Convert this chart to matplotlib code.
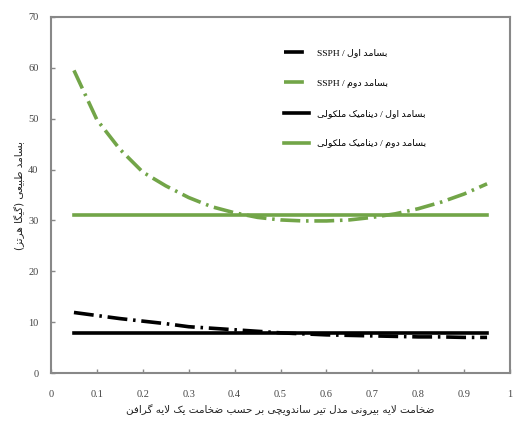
import matplotlib
matplotlib.use("Agg")
import matplotlib.pyplot as plt
import re

# thickness ratio (outer layer / one graphene layer)
x = [0.05, 0.10, 0.15, 0.20, 0.25, 0.30, 0.35, 0.40, 0.45, 0.50,
     0.55, 0.60, 0.65, 0.70, 0.75, 0.80, 0.85, 0.90, 0.95]
ssph_mode1 = [11.9, 11.3, 10.7, 10.2, 9.7, 9.1, 8.8, 8.5, 8.2, 7.9,
              7.7, 7.5, 7.4, 7.3, 7.2, 7.1, 7.1, 7.0, 7.0]
ssph_mode2 = [59.5, 49.8, 44.0, 39.5, 36.8, 34.5, 32.7, 31.5, 30.6, 30.1,
              29.9, 29.9, 30.1, 30.6, 31.3, 32.3, 33.6, 35.2, 37.2]
md_mode1 = [7.9] * len(x)
md_mode2 = [31.1] * len(x)

labels = ["بسامد اول / SSPH", "بسامد دوم / SSPH",
          "بسامد اول / دینامیک ملکولی", "بسامد دوم / دینامیک ملکولی"]
xlabel = "ضخامت لایه بیرونی مدل تیر ساندویچی بر حسب ضخامت یک لایه گرافن"
ylabel = "بسامد طبیعی (گیگا هرتز)"

# simple persian shaping: letter -> (isolated, final, initial, medial)
FORMS = {
    'ا': (0xFE8D, 0xFE8E, None, None), 'ب': (0xFE8F, 0xFE90, 0xFE91, 0xFE92),
    'ت': (0xFE95, 0xFE96, 0xFE97, 0xFE98), 'ح': (0xFEA1, 0xFEA2, 0xFEA3, 0xFEA4),
    'خ': (0xFEA5, 0xFEA6, 0xFEA7, 0xFEA8), 'د': (0xFEA9, 0xFEAA, None, None),
    'ر': (0xFEAD, 0xFEAE, None, None), 'ز': (0xFEAF, 0xFEB0, None, None),
    'س': (0xFEB1, 0xFEB2, 0xFEB3, 0xFEB4), 'ض': (0xFEBD, 0xFEBE, 0xFEBF, 0xFEC0),
    'ط': (0xFEC1, 0xFEC2, 0xFEC3, 0xFEC4), 'ع': (0xFEC9, 0xFECA, 0xFECB, 0xFECC),
    'ف': (0xFED1, 0xFED2, 0xFED3, 0xFED4), 'ل': (0xFEDD, 0xFEDE, 0xFEDF, 0xFEE0),
    'م': (0xFEE1, 0xFEE2, 0xFEE3, 0xFEE4), 'ن': (0xFEE5, 0xFEE6, 0xFEE7, 0xFEE8),
    'ه': (0xFEE9, 0xFEEA, 0xFEEB, 0xFEEC), 'و': (0xFEED, 0xFEEE, None, None),
    'چ': (0xFB7A, 0xFB7B, 0xFB7C, 0xFB7D), 'ک': (0xFB8E, 0xFB8F, 0xFB90, 0xFB91),
    'گ': (0xFB92, 0xFB93, 0xFB94, 0xFB95), 'ی': (0xFBFC, 0xFBFD, 0xFBFE, 0xFBFF),
}


def dual(c):
    return c in FORMS and FORMS[c][2] is not None


def shape(text):
    chars = list(text)
    out = []
    i = 0
    while i < len(chars):
        c = chars[i]
        prev = chars[i - 1] if i > 0 else ' '
        # lam-alef ligature
        if c == 'ل' and i + 1 < len(chars) and chars[i + 1] == 'ا':
            out.append(chr(0xFEFC if dual(prev) else 0xFEFB))
            i += 2
            continue
        if c not in FORMS:
            out.append(c)
            i += 1
            continue
        nxt = chars[i + 1] if i + 1 < len(chars) else ' '
        jp = dual(prev)
        jn = dual(c) and nxt in FORMS
        iso, fin, ini, med = FORMS[c]
        if jp and jn:
            out.append(chr(med))
        elif jp:
            out.append(chr(fin))
        elif jn:
            out.append(chr(ini))
        else:
            out.append(chr(iso))
        i += 1
    vis = ''.join(out)[::-1]
    vis = re.sub(r'[A-Za-z0-9.]+', lambda m: m.group(0)[::-1], vis)
    return vis.translate(str.maketrans('()', ')('))


plt.rcParams['font.family'] = ['Liberation Serif', 'DejaVu Sans']

fig = plt.figure(figsize=(5.16, 4.23), dpi=100)
ax = fig.add_axes([51 / 516, 1 - 373 / 423, 459 / 516, 356 / 423])

green = '#72a548'
dashdot = (0, (5.5, 1.6, 0.7, 1.6))
ax.plot(x, ssph_mode1, color='black', lw=2.6, linestyle=dashdot, label=shape(labels[0]))
ax.plot(x, ssph_mode2, color=green, lw=2.6, linestyle=dashdot, label=shape(labels[1]))
ax.plot(x, md_mode1, color='black', lw=2.6, label=shape(labels[2]))
ax.plot(x, md_mode2, color=green, lw=2.6, label=shape(labels[3]))

ax.set_xlim(0, 1)
ax.set_ylim(0, 70)
ax.set_xticks([i / 10 for i in range(11)])
ax.set_xticklabels(['0'] + ['%.1f' % (i / 10) for i in range(1, 10)] + ['1'])
ax.set_yticks(range(0, 71, 10))
ax.tick_params(direction='in', length=3, width=1, colors='#888888',
               labelcolor='#444444', labelsize=7.5)
ax.tick_params(axis='x', pad=12)
ax.tick_params(axis='y', pad=9)
for s in ax.spines.values():
    s.set_color('#888888')
    s.set_linewidth(1.5)

ax.set_xlabel(shape(xlabel), fontsize=7.5, color='#222222', labelpad=4,
              family=['DejaVu Sans'])
ax.set_ylabel(shape(ylabel), fontsize=7.5, color='#222222', labelpad=2,
              family=['DejaVu Sans'])

leg = ax.legend(loc='upper left', bbox_to_anchor=(0.49, 0.935), frameon=False,
                handlelength=2.6, labelspacing=2.25,
                prop={'family': ['Liberation Serif', 'DejaVu Sans'], 'size': 6.8})

fig.savefig('out.png', dpi=100)
